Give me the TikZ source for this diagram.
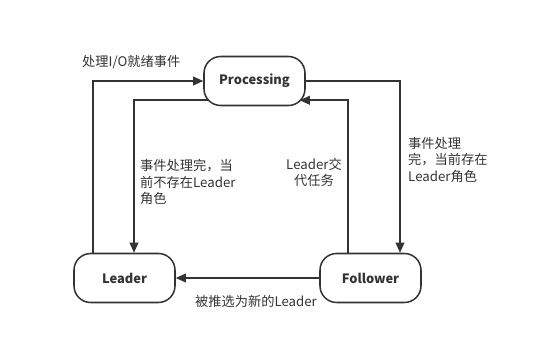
\documentclass[tikz,border=0pt]{standalone}
\usepackage{fontspec}
\setmainfont{Noto Sans CJK SC}
\usetikzlibrary{calc, arrows.meta}

\definecolor{ink}{HTML}{333333}

\tikzset{
    state/.style={draw=ink, line width=1.3pt, rounded corners=0.5cm,
        minimum width=3.03cm, minimum height=1.47cm, inner sep=0pt,
        font=\fontsize{11}{13}\selectfont\bfseries, text=ink},
    flow/.style={draw=ink, line width=1.3pt,
        -{Triangle[length=0.3cm, width=0.26cm]}},
    lbl/.style={font=\fontsize{11.3}{13.7}\selectfont, text=ink, inner sep=0pt}
}

\begin{document}
\begin{tikzpicture}[x=0.03cm, y=-0.03cm]

    \useasboundingbox (0,0) rectangle (550,348);

    \node[state] (proc) at (254.5,81) {Processing};
    \node[state] (leader) at (124.5,278) {Leader};
    \node[state] (fol) at (370.5,278) {Follower};

    \draw[flow] ($(leader.north)+(-31.5,0)$) |- (proc.west);
    \draw[flow] ($(proc.south west)+(6,-6)$) -| ($(leader.north)+(9.5,0)$);
    \draw[flow] ($(fol.north)+(-22.5,0)$) |- ($(proc.south east)+(-6,-6)$);
    \draw[flow] (proc.east) -| ($(fol.north)+(29.5,0)$);
    \draw[flow] (fol.west) -- (leader.east);

    \node[lbl, anchor=west] (l1) at (82,62) {处理I/O就绪事件};
    \node[lbl, anchor=west, align=left] (l2) at (140,182)
        {事件处理完，当\\前不存在Leader\\角色};
    \node[lbl, align=center] (l3) at (314,172) {Leader交\\代任务};
    \node[lbl, anchor=west, align=left] (l4) at (408,160)
        {事件处理\\完，当前存在\\Leader角色};
    \node[lbl] (l5) at (256,301) {被推选为新的Leader};

\end{tikzpicture}
\end{document}
